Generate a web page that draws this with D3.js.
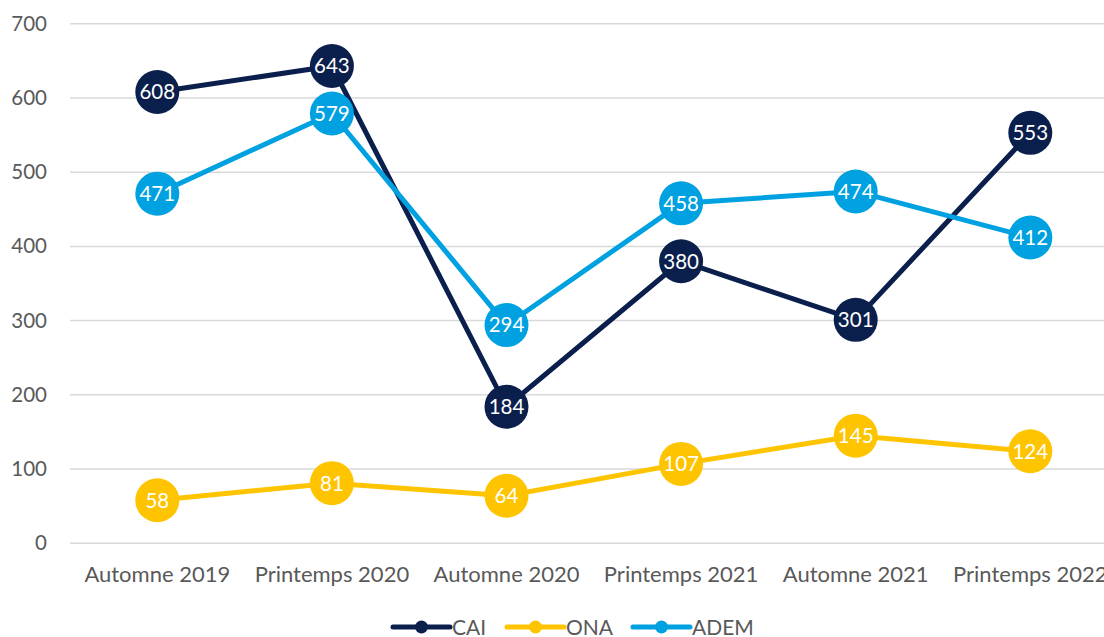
<!DOCTYPE html>
<html>
<head>
<meta charset="utf-8">
<script src="https://cdn.jsdelivr.net/npm/d3@7"></script>
<style>
  body { margin: 0; background: #fff; overflow: hidden; }
  text { font-family: Lato, "Open Sans", sans-serif; }
</style>
</head>
<body>
<div id="chart"></div>
<script>
// data
var periods = ["Automne 2019", "Printemps 2020", "Automne 2020", "Printemps 2021", "Automne 2021", "Printemps 2022"];
var cai = [608, 643, 184, 380, 301, 553];
var ona = [58, 81, 64, 107, 145, 124];
var adem = [471, 579, 294, 458, 474, 412];
var yTicks = [0, 100, 200, 300, 400, 500, 600, 700];

var series = [
    { name: "CAI", values: cai, color: "#0b1f4d" },
    { name: "ONA", values: ona, color: "#ffc400" },
    { name: "ADEM", values: adem, color: "#00a1e0" }
];

var width = 1104, height = 637;
var fontSize = 20;

var svg = d3.select("#chart")
    .append("svg")
    .attr("width", width)
    .attr("height", height);

// scales
var x = d3.scaleBand()
    .domain(periods)
    .range([70, 1117.6])
    .padding(0);

var y = d3.scaleLinear()
    .domain([0, 700])
    .range([543.3, 23.7]);

// gridlines
svg.append("g")
    .selectAll("line")
    .data(yTicks)
    .enter()
    .append("line")
    .attr("x1", 70)
    .attr("x2", width)
    .attr("y1", function (d) { return y(d); })
    .attr("y2", function (d) { return y(d); })
    .style("stroke", "#d9d9d9")
    .style("stroke-width", 1.5);

// y axis
var yAxis = svg.append("g")
    .attr("transform", "translate(47,0)")
    .call(d3.axisLeft(y).tickValues(yTicks).tickSize(0).tickPadding(0));
yAxis.select(".domain").remove();
yAxis.selectAll("text")
    .style("font-size", "20.5px")
    .style("font-family", "Lato, sans-serif")
    .style("fill", "#595959");

// x axis
var xAxis = svg.append("g")
    .attr("transform", "translate(0,566)")
    .call(d3.axisBottom(x).tickSize(0).tickPadding(0));
xAxis.select(".domain").remove();
xAxis.selectAll("text")
    .style("font-size", "22px")
    .style("font-family", "Lato, sans-serif")
    .style("fill", "#595959");

var line = d3.line()
    .x(function (d, i) { return x(periods[i]) + x.bandwidth() / 2; })
    .y(function (d) { return y(d); });

// lines, markers and labels per series
series.forEach(function (s) {
    var g = svg.append("g");
    g.append("path")
        .datum(s.values)
        .attr("d", line)
        .style("fill", "none")
        .style("stroke", s.color)
        .style("stroke-width", 5)
        .style("stroke-linejoin", "round");

    var pts = g.selectAll(".pt")
        .data(s.values)
        .enter()
        .append("g")
        .attr("transform", function (d, i) {
            return "translate(" + (x(periods[i]) + x.bandwidth() / 2) + "," + y(d) + ")";
        });
    pts.append("circle")
        .attr("r", 22)
        .style("fill", s.color);
    pts.append("text")
        .attr("text-anchor", "middle")
        .attr("dy", "0.36em")
        .style("font-size", "20.5px")
        .style("fill", "#fff")
        .text(function (d) { return d; });
});

// legend
var legendX = [393, 507, 633];
var legend = svg.append("g")
    .attr("transform", "translate(0,627)");
series.forEach(function (s, i) {
    var lg = legend.append("g")
        .attr("transform", "translate(" + legendX[i] + ",0)");
    lg.append("line")
        .attr("x1", 0)
        .attr("x2", 57)
        .style("stroke", s.color)
        .style("stroke-width", 5)
        .style("stroke-linecap", "round");
    lg.append("circle")
        .attr("cx", 28.5)
        .attr("r", 6.5)
        .style("fill", s.color);
    lg.append("text")
        .attr("x", 59)
        .attr("dy", "0.36em")
        .style("font-size", "21px")
        .style("fill", "#595959")
        .text(s.name);
});
</script>
</body>
</html>
